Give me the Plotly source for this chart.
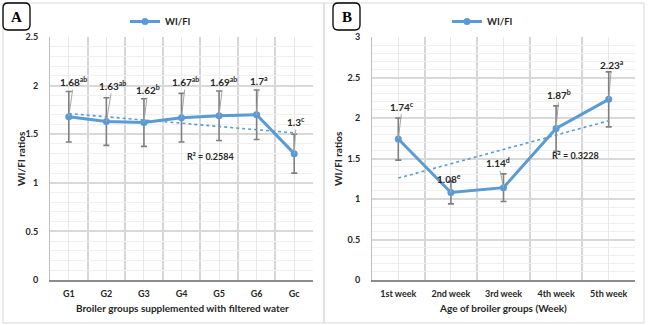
import numpy as np
import plotly.graph_objects as go

# ---------------- data ----------------
groups_a = ["G1", "G2", "G3", "G4", "G5", "G6", "Gc"]
wifi_a = [1.68, 1.63, 1.62, 1.67, 1.69, 1.70, 1.30]
err_a = [0.26, 0.245, 0.245, 0.25, 0.255, 0.255, 0.20]
sig_a = ["ab", "ab", "b", "ab", "ab", "a", "c"]

weeks_b = ["1st week", "2nd week", "3rd week", "4th week", "5th week"]
wifi_b = [1.74, 1.08, 1.14, 1.87, 2.23]
err_b = [0.26, 0.14, 0.17, 0.28, 0.34]
sig_b = ["c", "e", "d", "b", "a"]

yticks_a = [0, 0.5, 1, 1.5, 2, 2.5]
yticks_b = [0, 0.5, 1, 1.5, 2, 2.5, 3]

# ---------------- style ----------------
W, H = 649, 325
BLUE = "#5B9BD5"
FONT = "Lato"
TXT = "#262626"


def px(x):
    return x / W


def py(y):
    return 1 - y / H


def trend(vals):
    xs = np.arange(1, len(vals) + 1)
    ys = np.array(vals)
    slope, icpt = np.polyfit(xs, ys, 1)
    fit = slope * xs + icpt
    r2 = 1 - np.sum((ys - fit) ** 2) / np.sum((ys - ys.mean()) ** 2)
    return xs, fit, r2


fig = go.Figure()

panels = [
    dict(cats=groups_a, vals=wifi_a, errs=err_a, sig=sig_a, xa="x", ya="y", leg="legend"),
    dict(cats=weeks_b, vals=wifi_b, errs=err_b, sig=sig_b, xa="x2", ya="y2", leg="legend2"),
]

for p in panels:
    xs = list(range(1, len(p["cats"]) + 1))
    fig.add_trace(go.Scatter(
        x=xs, y=p["vals"], mode="lines+markers", name="WI/FI",
        xaxis=p["xa"], yaxis=p["ya"], legend=p["leg"],
        line=dict(color=BLUE, width=3), marker=dict(color=BLUE, size=7),
        error_y=dict(type="data", array=p["errs"], visible=True,
                     color="#7F7F7F", thickness=1.6, width=3),
        cliponaxis=False,
    ))
    tx, tfit, r2 = trend(p["vals"])
    p["r2"] = r2
    fig.add_trace(go.Scatter(
        x=tx, y=tfit, mode="lines", showlegend=False, hoverinfo="skip",
        xaxis=p["xa"], yaxis=p["ya"],
        line=dict(color=BLUE, width=1.6, dash="dot"),
    ))

# data labels with leader lines
offs_a = [(5, -35), (6, -36), (4, -33), (4, -36), (4, -34), (2, -34), (2, -32)]
offs_b = [(4, -33), (-2, -14), (-5, -25), (3, -34), (3, -35)]
for p, offs in zip(panels, [offs_a, offs_b]):
    for i, (v, s) in enumerate(zip(p["vals"], p["sig"])):
        fig.add_annotation(
            x=i + 1, y=v, xref=p["xa"], yref=p["ya"],
            text=f"<b>{v:g}<sup>{s}</sup></b>",
            ax=offs[i][0], ay=offs[i][1], showarrow=True, arrowhead=0,
            arrowwidth=1, arrowcolor="#A6A6A6", standoff=0,
            font=dict(family=FONT, size=10, color=TXT),
        )

# R² annotations
fig.add_annotation(x=4.76, y=1.27, xref="x", yref="y", showarrow=False,
                   text=f"<b>R² = {panels[0]['r2']:.4f}</b>",
                   font=dict(family=FONT, size=9, color=TXT))
fig.add_annotation(x=4.36, y=1.54, xref="x2", yref="y2", showarrow=False,
                   text=f"<b>R² = {panels[1]['r2']:.4f}</b>",
                   font=dict(family=FONT, size=9, color=TXT))

# axis titles
for txt, x, y, ang in [
    ("Broiler groups supplemented with filtered water", 182, 308, 0),
    ("Age of broiler groups (Week)", 503, 308, 0),
    ("WI/FI ratios", 21.5, 158.5, -90),
    ("WI/FI ratios", 338.5, 158.5, -90),
]:
    fig.add_annotation(x=px(x), y=py(y), xref="paper", yref="paper", showarrow=False,
                       xanchor="center", yanchor="middle",
                       text=f"<b>{txt}</b>", textangle=ang,
                       font=dict(family=FONT, size=10, color=TXT))

# panel letters
for letter, x0 in [("A", 3), ("B", 333)]:
    x1, y0, y1, r = x0 + 27, 3, 30, 5
    path = (f"M {px(x0 + r)},{py(y0)} L {px(x1 - r)},{py(y0)} "
            f"Q {px(x1)},{py(y0)} {px(x1)},{py(y0 + r)} L {px(x1)},{py(y1 - r)} "
            f"Q {px(x1)},{py(y1)} {px(x1 - r)},{py(y1)} L {px(x0 + r)},{py(y1)} "
            f"Q {px(x0)},{py(y1)} {px(x0)},{py(y1 - r)} L {px(x0)},{py(y0 + r)} "
            f"Q {px(x0)},{py(y0)} {px(x0 + r)},{py(y0)} Z")
    fig.add_shape(type="path", path=path, xref="paper", yref="paper",
                  line=dict(color="black", width=1.3))
    fig.add_annotation(x=px((x0 + x1) / 2), y=py(17), xref="paper", yref="paper",
                       xanchor="center", yanchor="middle",
                       showarrow=False, text=f"<b>{letter}</b>",
                       font=dict(family="Liberation Serif", size=15, color="black"))

# panel frames
fig.add_shape(type="rect", xref="paper", yref="paper",
              x0=px(3), x1=px(324), y0=py(323), y1=py(3),
              line=dict(color="#D9D9D9", width=1), layer="below")
fig.add_shape(type="rect", xref="paper", yref="paper",
              x0=px(324), x1=px(644), y0=py(323), y1=py(3),
              line=dict(color="#D9D9D9", width=1), layer="below")

tickfont = dict(family=FONT, size=9, color=TXT, weight="bold")


def xaxis(dom, n, labels, anchor):
    return dict(domain=dom, range=[0.5, n + 0.5], anchor=anchor,
                tickvals=list(range(1, n + 1)), ticktext=labels,
                showgrid=True, gridcolor="#E8E8E8", gridwidth=1,
                minor=dict(tickvals=[i + 0.5 for i in range(n + 1)], showgrid=True,
                           gridcolor="#D6D6D6", gridwidth=1.5),
                showline=True, linecolor="#8C8C8C", linewidth=1.5,
                zeroline=False, ticks="", ticklabelstandoff=4,
                tickfont=tickfont, fixedrange=True, automargin=False)


def yaxis(dom, top, ticks, anchor):
    return dict(domain=dom, range=[0, top], anchor=anchor,
                tickvals=ticks, ticktext=[f"{t:g}" for t in ticks],
                showgrid=True, gridcolor="#D9D9D9", gridwidth=1.5,
                minor=dict(dtick=0.1, tick0=0, showgrid=True,
                           gridcolor="#F0F0F0", gridwidth=1),
                showline=True, linecolor="#BFBFBF", linewidth=1,
                zeroline=False, ticks="", ticklabelstandoff=9,
                tickfont=tickfont, fixedrange=True, automargin=False)


ydom = [py(280), py(37)]
legfont = dict(family=FONT, size=9.5, color=TXT, weight="bold")
fig.update_layout(
    width=W, height=H, margin=dict(l=0, r=0, t=0, b=0, pad=0, autoexpand=False),
    paper_bgcolor="white", plot_bgcolor="white",
    xaxis=xaxis([px(50), px(313)], 7, groups_a, "y"),
    yaxis=yaxis(ydom, 2.5, yticks_a, "x"),
    xaxis2=xaxis([px(372), px(635)], 5, weeks_b, "y2"),
    yaxis2=yaxis(ydom, 3, yticks_b, "x2"),
    legend=dict(x=px(125), y=py(7), xanchor="left", yanchor="top",
                orientation="h", itemwidth=30, bgcolor="rgba(0,0,0,0)", font=legfont),
    legend2=dict(x=px(447), y=py(7), xanchor="left", yanchor="top",
                 orientation="h", itemwidth=30, bgcolor="rgba(0,0,0,0)", font=legfont),
    showlegend=True,
)

fig.write_html("out.html")
